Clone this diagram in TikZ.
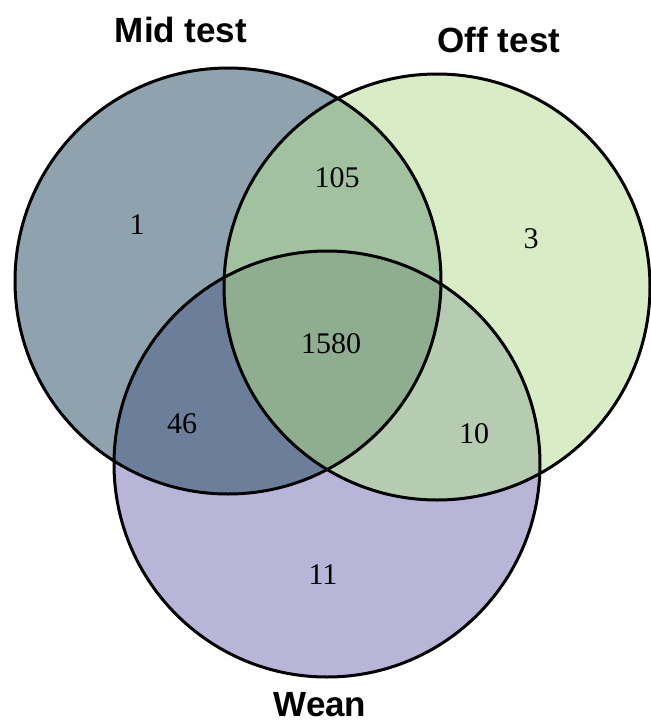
\documentclass[tikz,border=0pt]{standalone}
\usepackage{fontspec}
\setmainfont{Liberation Serif}
\newfontfamily\labfont{Liberation Sans}
\definecolor{midc}{HTML}{8FA3AE}
\definecolor{offc}{HTML}{D8EDC5}
\definecolor{weanc}{HTML}{B8B5D8}
\definecolor{mocol}{HTML}{A2C19E}
\definecolor{mwcol}{HTML}{6B7F9B}
\definecolor{owcol}{HTML}{B5CCB1}
\definecolor{allc}{HTML}{8FAD8F}
\tikzset{
  setlabel/.style={font=\labfont\bfseries\fontsize{35}{40}\selectfont, inner sep=0pt},
  count/.style={font=\fontsize{30}{34}\selectfont, inner sep=0pt},
  outline/.style={draw=black, line width=3pt}
}
\begin{document}
\begin{tikzpicture}[x=1pt,y=-1pt]
\useasboundingbox (0,0) rectangle (651,724);
\coordinate (M) at (228,281);
\coordinate (O) at (437,287);
\coordinate (W) at (327,464);
\def\rr{213}
% base fills
\fill[midc] (M) circle (\rr);
\fill[offc] (O) circle (\rr);
\fill[weanc] (W) circle (\rr);
% pairwise
\begin{scope}\clip (M) circle (\rr); \fill[mocol] (O) circle (\rr); \end{scope}
\begin{scope}\clip (M) circle (\rr); \fill[mwcol] (W) circle (\rr); \end{scope}
\begin{scope}\clip (O) circle (\rr); \fill[owcol] (W) circle (\rr); \end{scope}
% triple
\begin{scope}\clip (M) circle (\rr); \clip (O) circle (\rr); \fill[allc] (W) circle (\rr); \end{scope}
% outlines
\draw[outline] (M) circle (\rr);
\draw[outline] (O) circle (\rr);
\draw[outline] (W) circle (\rr);
% labels
\node[setlabel] (lmid) at (181,30) {Mid test};
\node[setlabel] (loff) at (499,40) {Off test};
\node[setlabel] (lwean) at (320,705) {Wean};
% counts
\node[count] (n1) at (137,225) {1};
\node[count] (n105) at (337,178) {105};
\node[count] (n3) at (531,239) {3};
\node[count] (n1580) at (331,344) {1580};
\node[count] (n46) at (182,424) {46};
\node[count] (n10) at (474,434) {10};
\node[count] (n11) at (323,575) {11};
\end{tikzpicture}
\end{document}
